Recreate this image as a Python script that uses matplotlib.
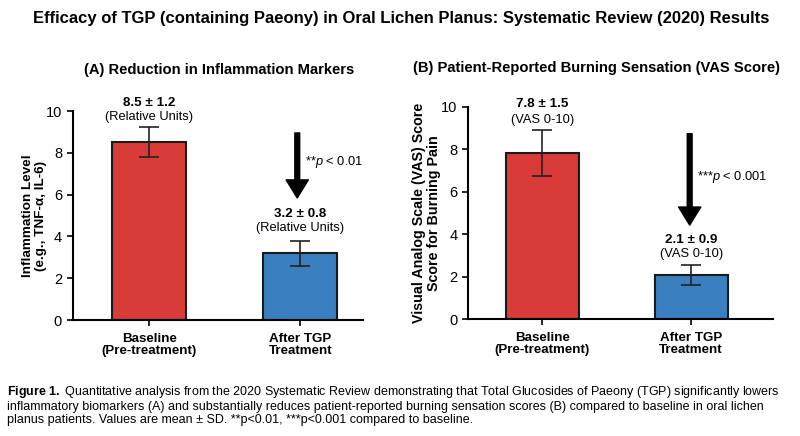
import matplotlib
matplotlib.use("Agg")
import matplotlib.pyplot as plt

plt.rcParams['font.family'] = ['Liberation Sans', 'DejaVu Sans']
plt.rcParams['mathtext.fontset'] = 'custom'
plt.rcParams['mathtext.rm'] = 'Liberation Sans'
plt.rcParams['mathtext.it'] = 'Liberation Sans:italic'
plt.rcParams['mathtext.bf'] = 'Liberation Sans:bold'

categories = ["Baseline\n(Pre-treatment)", "After TGP\nTreatment"]
infl_mean = [8.5, 3.2]
infl_sd_label = [1.2, 0.8]
infl_err = [0.72, 0.6]
vas_mean = [7.83, 2.07]
vas_label_mean = [7.8, 2.1]
vas_sd_label = [1.5, 0.9]
vas_err = [1.08, 0.47]
colors = ["#D83B38", "#3A80C1"]

fig = plt.figure(figsize=(8, 4.36), dpi=100)
W, H = 800, 436

def add_ax(l, r, t, b):
    return fig.add_axes([l / W, 1 - b / H, (r - l) / W, (b - t) / H])

axA = add_ax(72.5, 363, 111, 320)
axB = add_ax(468, 773, 107, 319)

def draw(ax, means, label_means, errs, sds, unit, ylabel, ylsize, ylx, xlim, ptext, arrow, ppos, lab_y):
    x = [0, 1]
    ax.bar(x, means, width=0.49, color=colors, edgecolor="#1a1a1a", linewidth=1.5, zorder=2)
    ax.errorbar(x, means, yerr=errs, fmt="none", ecolor="#222222", elinewidth=1.2,
                capsize=7.5, capthick=1.2, zorder=3)
    ax.set_xlim(*xlim)
    ax.set_ylim(0, 10)
    ax.set_yticks([0, 2, 4, 6, 8, 10])
    ax.set_xticks(x)
    ax.set_xticklabels(categories, fontsize=9.6, fontweight="bold", linespacing=1.05)
    ax.tick_params(axis="y", labelsize=10.5, length=4, width=1.2)
    ax.tick_params(axis="x", length=4, width=1.2, pad=5)
    for s in ["top", "right"]:
        ax.spines[s].set_visible(False)
    for s in ["left", "bottom"]:
        ax.spines[s].set_linewidth(1.5)
    ax.set_ylabel(ylabel, fontsize=ylsize, fontweight="bold", linespacing=1.1)
    ax.yaxis.set_label_coords(ylx, 0.5)
    for i in range(2):
        ax.text(x[i], lab_y[i][0], f"{label_means[i]:.1f} ± {sds[i]:.1f}",
                ha="center", va="center", fontsize=9.6, fontweight="bold")
        ax.text(x[i], lab_y[i][1], unit, ha="center", va="center", fontsize=9.3)
    ax.annotate("", xy=(arrow[0], arrow[2]), xytext=(arrow[0], arrow[1]),
                arrowprops=dict(arrowstyle="simple,head_width=1.6,head_length=1.3,tail_width=0.35",
                                color="black", shrinkA=0, shrinkB=0))
    ax.text(ppos[0], ppos[1], ptext, ha="left", va="center", fontsize=9.3)

draw(axA, infl_mean, infl_mean, infl_err, infl_sd_label, "(Relative Units)",
     "Inflammation Level\n(e.g., TNF-α, IL-6)", 9.7, -0.089,
     (-0.507, 1.415), r"**$\it{p}$ < 0.01", (0.98, 8.95, 5.84), (1.03, 7.57),
     [(10.37, 9.73), (5.07, 4.39)])
draw(axB, vas_mean, vas_label_mean, vas_err, vas_sd_label, "(VAS 0-10)",
     "Visual Analog Scale (VAS) Score\nScore for Burning Pain", 10.3, -0.089,
     (-0.5, 1.55), r"***$\it{p}$ < 0.001", (0.99, 8.74, 4.43), (1.04, 6.7),
     [(10.15, 9.37), (3.73, 3.07)])

fig.text(219.5 / W, 1 - 70 / H, "(A) Reduction in Inflammation Markers",
         ha="center", va="center", fontsize=10.6, fontweight="bold")
fig.text(596.5 / W, 1 - 68 / H, "(B) Patient-Reported Burning Sensation (VAS Score)",
         ha="center", va="center", fontsize=10.6, fontweight="bold")

fig.text(401 / W, 1 - 18 / H, "Efficacy of TGP (containing Paeony) in Oral Lichen Planus: Systematic Review (2020) Results",
         ha="center", va="center", fontsize=12, fontweight="bold")

cap_y = 1 - 384 / H
fig.text(7 / W, cap_y, r"$\bf{Figure\ 1.}$ Quantitative analysis from the 2020 Systematic Review demonstrating that Total Glucosides of Paeony (TGP) significantly lowers" "\n"
         "inflammatory biomarkers (A) and substantially reduces patient-reported burning sensation scores (B) compared to baseline in oral lichen\n"
         "planus patients. Values are mean ± SD. **p<0.01, ***p<0.001 compared to baseline.",
         ha="left", va="top", fontsize=9, linespacing=1.1)

fig.savefig("out.png", dpi=100)
